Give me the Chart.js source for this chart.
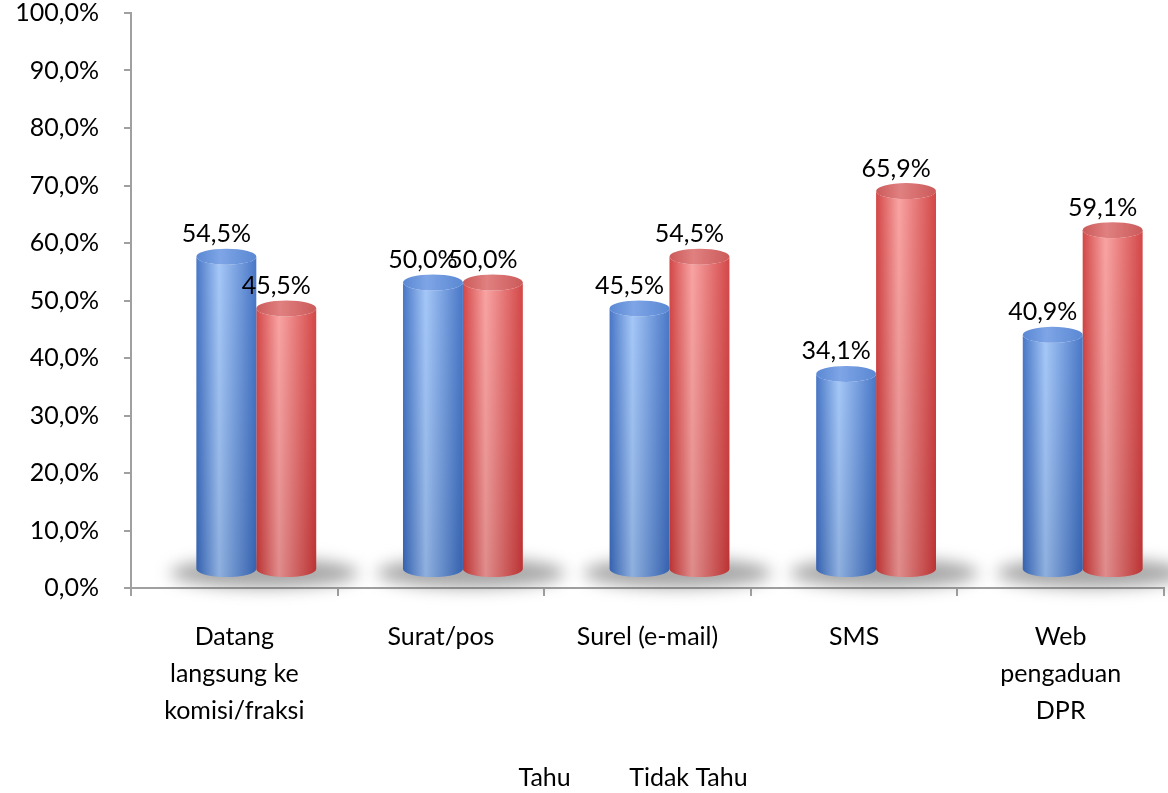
<!DOCTYPE html>
<html>
<head>
<meta charset="utf-8">
<script src="https://cdn.jsdelivr.net/npm/chart.js@4.4.1/dist/chart.umd.min.js"></script>
<style>
  html, body { margin: 0; padding: 0; background: #fff; }
  #wrap { width: 1168px; height: 793px; }
</style>
</head>
<body>
<div id="wrap"><canvas id="chart"></canvas></div>
<script>
const categories = [["Datang", "langsung ke", "komisi/fraksi"], "Surat/pos", "Surel (e-mail)", "SMS", ["Web", "pengaduan", "DPR"]];
const seriesNames = ["Tahu", "Tidak Tahu"];
const tahu = [54.5, 50.0, 45.5, 34.1, 40.9];
const tidakTahu = [45.5, 50.0, 54.5, 65.9, 59.1];

const fmt = v => v.toFixed(1).replace(".", ",") + "%";
const FONT = "Lato";
const FS = 25;

// cylinder colours per series
const palette = [
  { dark: "#3a6cc2", light: "#9ec3f7", top: "#5a88d3", topLight: "#7ea5e6" },
  { dark: "#d03838", light: "#f89c9c", top: "#cc5a5a", topLight: "#e08080" }
];
// fake 3d depth offset
const shift = { x: 22, y: -18 };
const RY = 8;

const cylinders = {
  id: "cylinders",
  afterLayout(chart) {
    // legend sits a bit lower and left of centre, like the original
    const lg = chart.legend;
    const pad = lg.options.labels.padding;
    const lw = lg.lineWidths[0];
    const start = 470;
    lg.left = start - pad;
    lg.right = start + lw;
    lg.top = 755;
    lg.bottom = 793;
  },
  beforeDatasetsDraw(chart) {
    const ctx = chart.ctx;
    const m0 = chart.getDatasetMeta(0), m1 = chart.getDatasetMeta(1);
    ctx.save();
    ctx.filter = "blur(8px)";
    ctx.fillStyle = "rgba(80,80,80,0.5)";
    m0.data.forEach((bar, i) => {
      const b2 = m1.data[i];
      const left = bar.x - bar.width / 2 + shift.x - 26;
      const right = b2.x + b2.width / 2 + shift.x + 42;
      const cy = bar.base + shift.y + 4;
      ctx.beginPath();
      ctx.ellipse((left + right) / 2, cy, (right - left) / 2, 15, 0, 0, Math.PI * 2);
      ctx.fill();
    });
    ctx.restore();
  },
  beforeDatasetDraw(chart, args) {
    const ctx = chart.ctx;
    const pal = palette[args.index];
    args.meta.data.forEach(bar => {
      const w = bar.width, cx = bar.x + shift.x;
      const x0 = cx - w / 2, x1 = cx + w / 2;
      const top = bar.y + shift.y, base = bar.base + shift.y;
      ctx.save();
      const g = ctx.createLinearGradient(x0, 0, x1, 0);
      g.addColorStop(0, pal.dark);
      g.addColorStop(0.38, pal.light);
      g.addColorStop(1, pal.dark);
      ctx.fillStyle = g;
      ctx.beginPath();
      ctx.moveTo(x0, top);
      ctx.lineTo(x0, base);
      ctx.ellipse(cx, base, w / 2, RY, 0, Math.PI, 0, true);
      ctx.lineTo(x1, top);
      ctx.ellipse(cx, top, w / 2, RY, 0, 0, Math.PI, false);
      ctx.closePath();
      ctx.fill();
      // darker towards the floor
      const v = ctx.createLinearGradient(0, top, 0, base + RY);
      v.addColorStop(0, "rgba(255,255,255,0.08)");
      v.addColorStop(1, "rgba(0,0,0,0.10)");
      ctx.fillStyle = v;
      ctx.fill();
      // top cap
      const t = ctx.createLinearGradient(x0, 0, x1, 0);
      t.addColorStop(0, pal.top);
      t.addColorStop(0.4, pal.topLight);
      t.addColorStop(1, pal.top);
      ctx.fillStyle = t;
      ctx.beginPath();
      ctx.ellipse(cx, top, w / 2, RY, 0, 0, Math.PI * 2);
      ctx.fill();
      ctx.restore();
    });
    return false;
  },
  afterDatasetsDraw(chart) {
    const ctx = chart.ctx;
    ctx.save();
    ctx.font = FS + "px " + FONT;
    ctx.fillStyle = "#000";
    ctx.textAlign = "center";
    ctx.textBaseline = "bottom";
    chart.data.datasets.forEach((ds, di) => {
      chart.getDatasetMeta(di).data.forEach((bar, i) => {
        ctx.fillText(fmt(ds.data[i]), bar.x + shift.x - 10, bar.y + shift.y - RY - 2);
      });
    });
    ctx.restore();
  }
};

new Chart(document.getElementById("chart"), {
  type: "bar",
  data: {
    labels: categories,
    datasets: [
      { label: seriesNames[0], data: tahu, backgroundColor: "#4f81bd" },
      { label: seriesNames[1], data: tidakTahu, backgroundColor: "#c0504d" }
    ]
  },
  options: {
    responsive: true,
    maintainAspectRatio: false,
    animation: false,
    categoryPercentage: 0.58,
    barPercentage: 1,
    layout: { padding: { top: 0, right: 4, left: 0, bottom: 0 } },
    plugins: {
      tooltip: { enabled: false },
      legend: {
        position: "bottom",
        labels: {
          boxWidth: 36,
          padding: 10,
          color: "#000",
          font: { family: FONT, size: FS },
          // no visible swatch, text only
          generateLabels: chart => chart.data.datasets.map((ds, i) => ({
            text: ds.label, datasetIndex: i, fillStyle: "rgba(0,0,0,0)",
            strokeStyle: "rgba(0,0,0,0)", lineWidth: 0, fontColor: "#000", hidden: false
          }))
        }
      }
    },
    scales: {
      y: {
        min: 0,
        max: 100,
        afterFit: s => { s.width = 131; s.paddingTop = 13; s.paddingBottom = 13; },
        ticks: { stepSize: 10, callback: v => fmt(v), color: "#000", font: { family: FONT, size: FS, lineHeight: 1 }, padding: 25 },
        grid: { drawOnChartArea: false, tickLength: 7, color: "#a0a0a0", lineWidth: 2 },
        border: { color: "#a0a0a0", width: 2 }
      },
      x: {
        afterFit: s => { s.height = 160; s.paddingLeft = 0; s.paddingRight = 0; },
        ticks: { color: "#000", font: { family: FONT, size: FS, lineHeight: 1.48 }, padding: 22, maxRotation: 0, autoSkip: false },
        grid: { drawOnChartArea: false, offset: true, tickLength: 8, color: "#a0a0a0", lineWidth: 2 },
        border: { color: "#a0a0a0", width: 2 }
      }
    }
  },
  plugins: [cylinders]
});
</script>
</body>
</html>
